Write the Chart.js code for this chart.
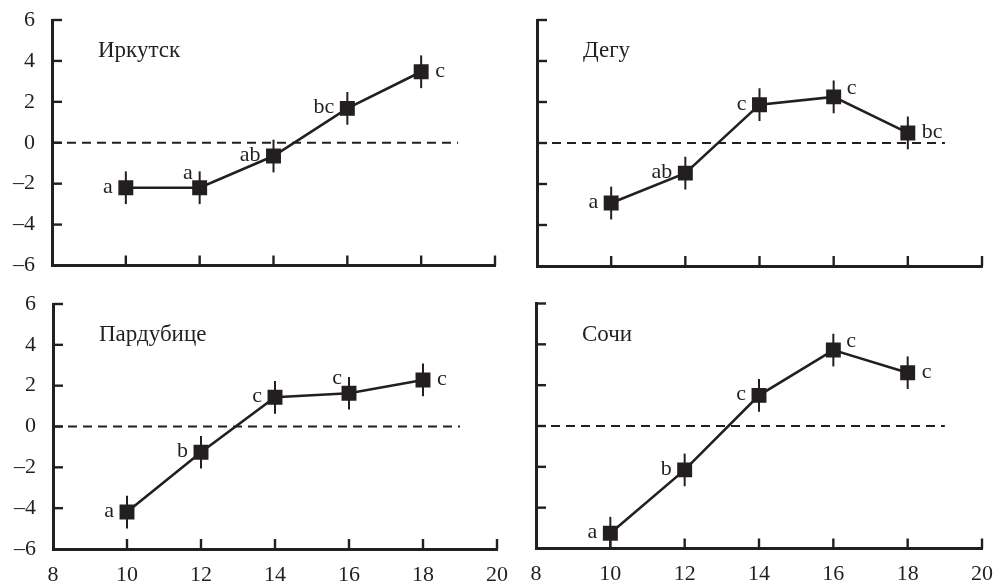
<!DOCTYPE html>
<html>
<head>
<meta charset="utf-8">
<script src="https://cdn.jsdelivr.net/npm/chart.js@4.4.1/dist/chart.umd.min.js"></script>
<style>
  html, body { margin: 0; background: #fff; }
  #wrap { position: relative; width: 995px; height: 583px; overflow: hidden; background: #fff; }
  #wrap canvas { position: absolute; left: 0; top: 0; }
</style>
</head>
<body>
<div id="wrap">
  <canvas id="irkutsk" width="995" height="583"></canvas>
  <canvas id="daegu" width="995" height="583"></canvas>
  <canvas id="pardubice" width="995" height="583"></canvas>
  <canvas id="sochi" width="995" height="583"></canvas>
</div>
<script>
// temperature on x, deviation on y
const temps = [10, 12, 14, 16, 18];
const xTicks = [8, 10, 12, 14, 16, 18, 20];
const yTicks = [-6, -4, -2, 0, 2, 4, 6];
const refLineX = [8, 19];
const refLineY = 0;

const irkutskY = [-2.2, -2.2, -0.65, 1.68, 3.47];
const irkutskErr = [0.8, 0.8, 0.8, 0.8, 0.8];
const irkutskLetters = ["a", "a", "ab", "bc", "c"];

const daeguY = [-2.93, -1.47, 1.87, 2.25, 0.49];
const daeguErr = [0.8, 0.8, 0.8, 0.8, 0.8];
const daeguLetters = ["a", "ab", "c", "c", "bc"];

const pardubiceY = [-4.19, -1.26, 1.43, 1.63, 2.28];
const pardubiceErr = [0.8, 0.8, 0.8, 0.8, 0.8];
const pardubiceLetters = ["a", "b", "c", "c", "c"];

const sochiY = [-5.25, -2.15, 1.5, 3.72, 2.61];
const sochiErr = [0.8, 0.8, 0.8, 0.8, 0.8];
const sochiLetters = ["a", "b", "c", "c", "c"];

// where each letter sits next to its marker
const irkutskPlace = ["left", "upLeft", "left", "left", "right"];
const daeguPlace = ["left", "left", "left", "upRight", "right"];
const pardubicePlace = ["left", "left", "left", "upLeft", "right"];
const sochiPlace = ["left", "left", "left", "upRight", "right"];

const INK = "#231f20";
const SERIF = "'Liberation Serif', 'Times New Roman', serif";

Chart.defaults.font.family = SERIF;
Chart.defaults.font.size = 22;
Chart.defaults.color = INK;

const PLACES = {
  left: { dx: -13, dy: 5, align: "right" },
  right: { dx: 14, dy: 5, align: "left" },
  upLeft: { dx: -7, dy: -9, align: "right" },
  upRight: { dx: 13, dy: -3, align: "left" },
};

const panelExtras = {
  id: "panelExtras",
  afterDatasetsDraw(chart, args, opts) {
    const { ctx, chartArea, scales } = chart;
    const xs = scales.x;
    const ys = scales.y;
    ctx.save();
    ctx.strokeStyle = INK;

    // inward tick marks
    ctx.lineWidth = 2.4;
    xTicks.forEach((v) => {
      if (v === xs.min) return;
      const px = xs.getPixelForValue(v);
      ctx.beginPath();
      ctx.moveTo(px, chartArea.bottom);
      ctx.lineTo(px, chartArea.bottom - 10);
      ctx.stroke();
    });
    yTicks.forEach((v) => {
      if (v === ys.min) return;
      const py = ys.getPixelForValue(v);
      ctx.beginPath();
      ctx.moveTo(chartArea.left, py);
      ctx.lineTo(chartArea.left + 10, py);
      ctx.stroke();
    });

    // error bars
    ctx.lineWidth = 2;
    temps.forEach((t, i) => {
      const px = xs.getPixelForValue(t);
      ctx.beginPath();
      ctx.moveTo(px, ys.getPixelForValue(opts.values[i] - opts.errors[i]));
      ctx.lineTo(px, ys.getPixelForValue(opts.values[i] + opts.errors[i]));
      ctx.stroke();
    });

    // significance letters
    ctx.fillStyle = INK;
    ctx.font = "22px " + SERIF;
    ctx.textBaseline = "alphabetic";
    temps.forEach((t, i) => {
      const p = PLACES[opts.places[i]];
      ctx.textAlign = p.align;
      ctx.fillText(opts.letters[i], xs.getPixelForValue(t) + p.dx, ys.getPixelForValue(opts.values[i]) + p.dy);
    });

    // city name
    ctx.textAlign = "left";
    ctx.font = "23px " + SERIF;
    ctx.fillText(opts.title, chartArea.left + 46, chartArea.top + 37);
    ctx.restore();
  },
};

function makePanel(id, title, values, errors, letters, places, layout) {
  const points = temps.map((t, i) => ({ x: t, y: values[i] }));
  new Chart(document.getElementById(id), {
    type: "scatter",
    data: {
      datasets: [
        {
          data: points,
          showLine: true,
          borderColor: INK,
          borderWidth: 2.6,
          backgroundColor: INK,
          pointStyle: "rect",
          pointRadius: 9.5,
          pointBorderWidth: 1.5,
          pointBorderColor: INK,
          clip: false,
        },
        {
          data: refLineX.map((x) => ({ x, y: refLineY })),
          showLine: true,
          borderColor: INK,
          borderWidth: 2,
          borderDash: [9, 6],
          pointRadius: 0,
        },
      ],
    },
    options: {
      responsive: false,
      animation: false,
      events: [],
      layout: { padding: layout.pad },
      plugins: {
        legend: { display: false },
        tooltip: { enabled: false },
        panelExtras: { title, values, errors, letters, places },
      },
      scales: {
        x: {
          type: "linear",
          min: 8,
          max: 20,
          afterBuildTicks: (s) => { s.ticks = xTicks.map((v) => ({ value: v })); },
          afterFit: (s) => {
            s.height = layout.showX ? 34 : 10;
            s.paddingLeft = 0;
            s.paddingRight = 0;
          },
          grid: { display: false, drawTicks: false },
          border: { display: true, color: INK, width: 3 },
          ticks: { display: layout.showX, padding: 13, font: { size: 22 }, maxRotation: 0 },
        },
        y: {
          min: -6,
          max: 6,
          afterBuildTicks: (s) => { s.ticks = yTicks.map((v) => ({ value: v })); },
          afterFit: (s) => {
            s.width = 45;
            s.paddingTop = 0;
            s.paddingBottom = 0;
          },
          grid: { display: false, drawTicks: false },
          border: { display: true, color: INK, width: 3 },
          ticks: {
            display: layout.showY,
            padding: 17,
            font: { size: 22 },
            callback: (v) => (v < 0 ? "\u2013" + Math.abs(v) : String(v)),
          },
        },
      },
    },
    plugins: [panelExtras],
  });
}

makePanel("irkutsk", "Иркутск", irkutskY, irkutskErr, irkutskLetters, irkutskPlace, {
  showX: false, showY: true, pad: { left: 7, right: 500, top: 20, bottom: 307.5 },
});
makePanel("daegu", "Дегу", daeguY, daeguErr, daeguLetters, daeguPlace, {
  showX: false, showY: false, pad: { left: 492, right: 13, top: 20, bottom: 307 },
});
makePanel("pardubice", "Пардубице", pardubiceY, pardubiceErr, pardubiceLetters, pardubicePlace, {
  showX: true, showY: true, pad: { left: 8, right: 498, top: 304, bottom: 0 },
});
makePanel("sochi", "Сочи", sochiY, sochiErr, sochiLetters, sochiPlace, {
  showX: true, showY: false, pad: { left: 491, right: 13, top: 303.5, bottom: 0.5 },
});
</script>
</body>
</html>
